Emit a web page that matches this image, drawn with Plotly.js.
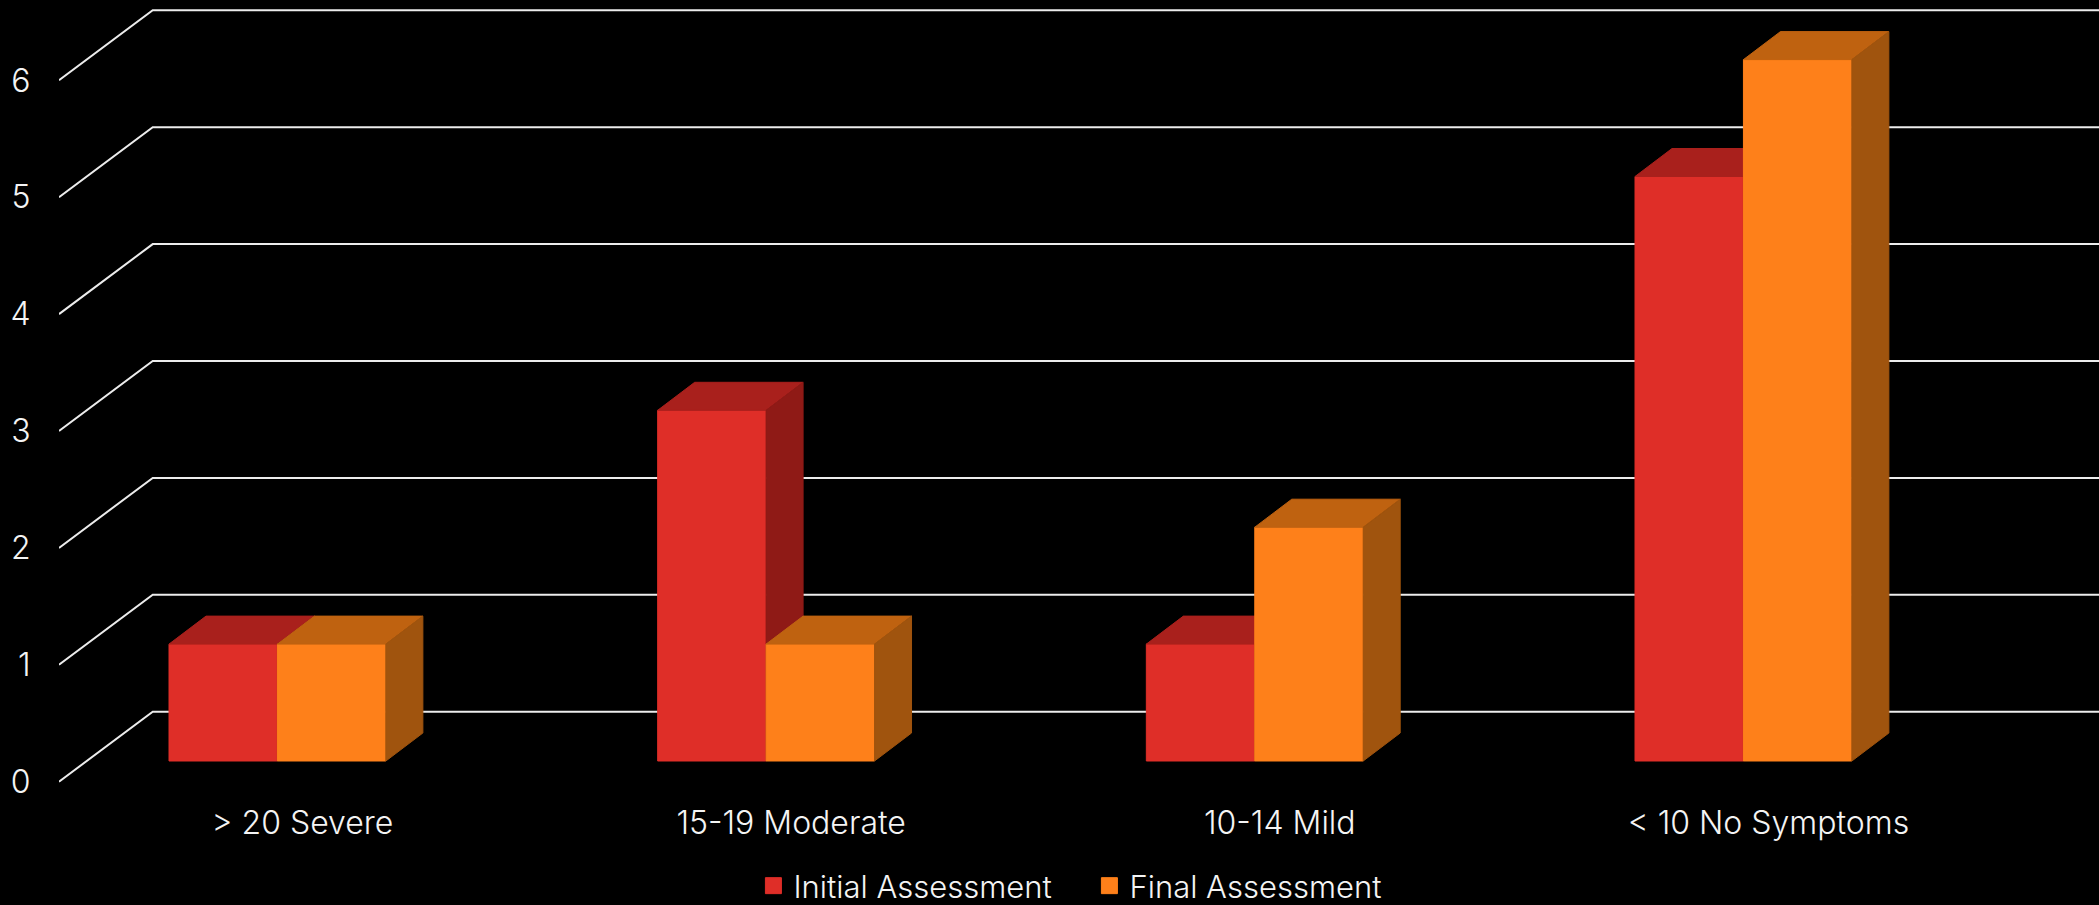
<!DOCTYPE html>
<html>
<head>
<meta charset="utf-8">
<script src="https://cdn.plot.ly/plotly-3.0.1.min.js"></script>
<style>html,body{margin:0;padding:0;background:#000;overflow:hidden}</style>
</head>
<body>
<div id="chart" style="width:2099px;height:905px"></div>
<script>
const categories = ['> 20 Severe', '15-19 Moderate', '10-14 Mild', '< 10 No Symptoms'];
const initialValues = [1, 3, 1, 5];
const finalValues = [1, 1, 2, 6];
const yTicks = [0, 1, 2, 3, 4, 5, 6];

const idx = categories.map((_, i) => i);
const xRange = [-0.447, 3.7276];
const yRange = [-0.1138, 6.687];
const barYRange = [-0.2908, 6.5098];
const barW = 0.2219, depthX = 0.0757, depthY = 0.2395;
const wallX = -0.2552, wallRise = 0.5988, barBase = 0.177;
const font = 'Inter, Lato, sans-serif';

function gridTrace() {
  const x = [], y = [];
  yTicks.forEach(v => {
    x.push(xRange[0], wallX, xRange[1], null);
    y.push(v, v + wallRise, v + wallRise, null);
  });
  return {type:'scatter', mode:'lines', x, y, xaxis:'x', yaxis:'y', showlegend:false,
          hoverinfo:'skip', cliponaxis:false, line:{color:'#ececec', width:2}};
}
function legendTrace(name, vals, color, off) {
  return {type:'scatter', mode:'markers', name,
          x: idx.map(i => i + off), y: vals.map(v => barBase + v / 2),
          xaxis:'x', yaxis:'y',
          marker:{symbol:'square', size:16, color, line:{color, width:1}}};
}
function barTrace(name, vals, color, offset, ax) {
  return {type:'bar', name, x:idx, y:vals, width:barW, offset, xaxis:'x'+ax, yaxis:'y'+ax,
          showlegend:false, marker:{color, line:{width:1, color}}};
}
function faces(vals, offset, color, kind, ax) {
  const x = [], y = [];
  vals.forEach((v, i) => {
    const l = i + offset, r = l + barW;
    if (kind === 'top') {
      x.push(l, r, r + depthX, l + depthX, l, null);
      y.push(v, v, v + depthY, v + depthY, v, null);
    } else {
      x.push(r, r + depthX, r + depthX, r, r, null);
      y.push(v, v + depthY, depthY, 0, v, null);
    }
  });
  return {type:'scatter', mode:'lines', x, y, fill:'toself', fillcolor:color,
          line:{width:1, color}, xaxis:'x'+ax, yaxis:'y'+ax, showlegend:false, hoverinfo:'skip'};
}

const RED='#DF2E28', ORANGE='#FE801A';
const data = [
  gridTrace(),
  legendTrace('Initial Assessment', initialValues, RED, -barW/2),
  legendTrace('Final Assessment', finalValues, ORANGE, barW/2),
  barTrace('Initial Assessment', initialValues, RED, -barW, '2'),
  faces(initialValues, -barW, '#A9201C', 'top', '2'),
  faces(initialValues, -barW, '#8F1A16', 'side', '2'),
  barTrace('Final Assessment', finalValues, ORANGE, 0, '3'),
  faces(finalValues, 0, '#BF6210', 'top', '3'),
  faces(finalValues, 0, '#A0540E', 'side', '3')
];

const hiddenX = {range:xRange, overlaying:'x', visible:false, fixedrange:true};
const tickFont = {size:32, color:'#f4f4f4', family:font, weight:300};
const legendFont = {size:31, color:'#f4f4f4', family:font, weight:300};
const layout = {
  width:2099, height:905,
  paper_bgcolor:'#000', plot_bgcolor:'#000',
  margin:{l:59.3, r:0, t:0, b:110, pad:0, autoexpand:false},
  hovermode:false,
  font:{family:font, color:'#fff', size:30},
  xaxis:{range:xRange, tickmode:'array', tickvals:idx.map(i => i + 0.0512), ticktext:categories,
         showgrid:false, zeroline:false, showline:false, ticks:'outside', ticklen:0,
         tickfont:tickFont, fixedrange:true},
  yaxis:{range:yRange, tickmode:'array', tickvals:yTicks, ticktext:yTicks.map(String),
         showgrid:false, zeroline:false, showline:false, ticks:'outside', ticklen:21, tickcolor:'rgba(0,0,0,0)',
         tickfont:tickFont, fixedrange:true},
  xaxis2:hiddenX,
  yaxis2:{range:barYRange, overlaying:'y', visible:false, fixedrange:true},
  xaxis3:hiddenX,
  yaxis3:{range:barYRange, overlaying:'y', visible:false, fixedrange:true},
  legend:{orientation:'h', x:0.3404, xanchor:'left', y:-0.0805, yanchor:'top',
          font:legendFont, bgcolor:'rgba(0,0,0,0)', entrywidth:291,
          itemclick:false, itemdoubleclick:false}
};
Plotly.newPlot('chart', data, layout, {displayModeBar:false, staticPlot:true});
</script>
</body>
</html>
